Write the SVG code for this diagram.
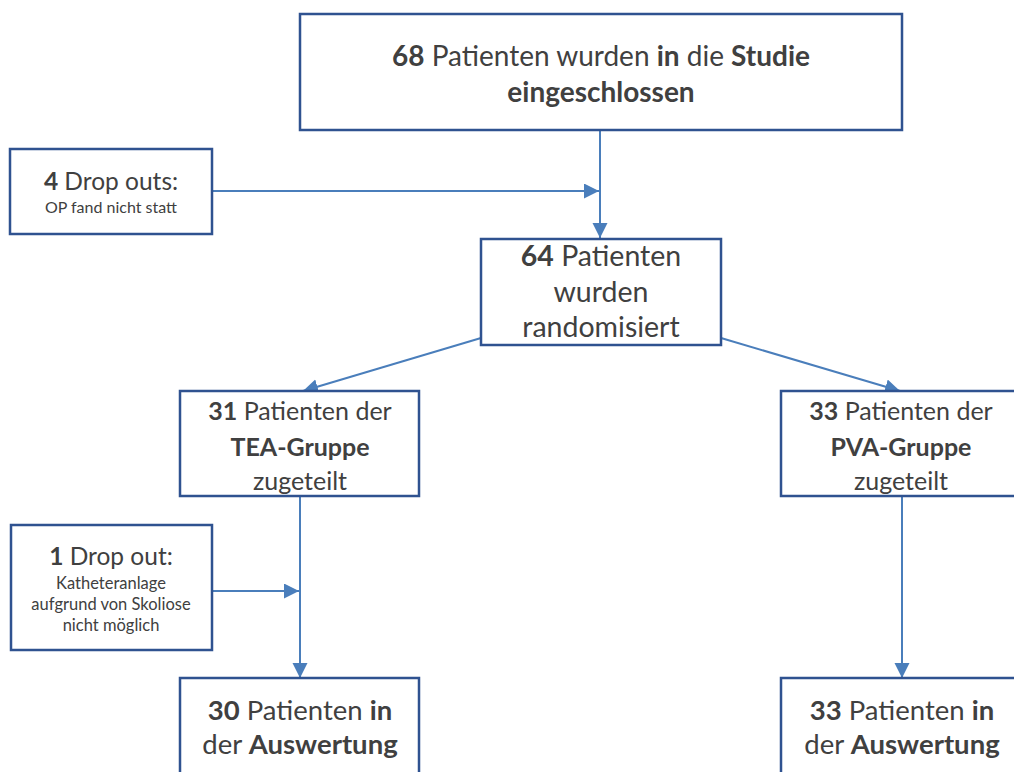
<svg xmlns="http://www.w3.org/2000/svg" width="1014" height="772" viewBox="0 0 1014 772">
<style>
.box{fill:#ffffff;stroke:#2F5290;stroke-width:2.5}
.t{font-family:Lato,"Liberation Sans",sans-serif;fill:#404040;text-anchor:middle}
.b{font-weight:bold}
.c{stroke:#4A7EBB;stroke-width:2;fill:none;marker-end:url(#ah)}
</style>
<defs>
<marker id="ah" markerUnits="userSpaceOnUse" markerWidth="16" markerHeight="16" refX="15" refY="7.5" orient="auto">
<path d="M0,0 L15,7.5 L0,15 z" fill="#4A7EBB"/>
</marker>
</defs>
<g id="connectors">
<line class="c" x1="600" y1="130" x2="600" y2="238"/>
<line class="c" x1="212" y1="191" x2="599" y2="191"/>
<line class="c" x1="481" y1="338" x2="303" y2="391"/>
<line class="c" x1="721" y1="338" x2="900" y2="391"/>
<line class="c" x1="300" y1="496" x2="300" y2="678"/>
<line class="c" x1="212" y1="591" x2="299" y2="591"/>
<line class="c" x1="902" y1="496" x2="902" y2="678"/>
</g>
<g id="n-top">
<rect class="box" x="300" y="14" width="602" height="116"/>
<text class="t" x="601" y="66" font-size="28"><tspan class="b">68</tspan> Patienten wurden <tspan class="b">in</tspan> die <tspan class="b">Studie</tspan></text>
<text class="t b" x="601" y="102" font-size="28">eingeschlossen</text>
</g>
<g id="n-drop4">
<rect class="box" x="10" y="149" width="202" height="85"/>
<text class="t" x="111" y="190" font-size="24.5"><tspan class="b">4</tspan> Drop outs:</text>
<text class="t" x="111" y="213" font-size="16">OP fand nicht statt</text>
</g>
<g id="n-rand">
<rect class="box" x="481" y="239" width="240" height="106"/>
<text class="t" x="601" y="266" font-size="28.5"><tspan class="b">64</tspan> Patienten</text>
<text class="t" x="601" y="302" font-size="28.5">wurden</text>
<text class="t" x="601" y="337" font-size="28.5">randomisiert</text>
</g>
<g id="n-tea">
<rect class="box" x="180" y="391" width="239" height="105"/>
<text class="t" x="300" y="420" font-size="25"><tspan class="b">31</tspan> Patienten der</text>
<text class="t b" x="300" y="456" font-size="25">TEA-Gruppe</text>
<text class="t" x="300" y="490" font-size="25">zugeteilt</text>
</g>
<g id="n-pva">
<rect class="box" x="781" y="391" width="245" height="105"/>
<text class="t" x="901" y="420" font-size="25"><tspan class="b">33</tspan> Patienten der</text>
<text class="t b" x="901" y="456" font-size="25">PVA-Gruppe</text>
<text class="t" x="901" y="490" font-size="25">zugeteilt</text>
</g>
<g id="n-drop1">
<rect class="box" x="11" y="525" width="201" height="125"/>
<text class="t" x="111" y="565" font-size="24.5"><tspan class="b">1</tspan> Drop out:</text>
<text class="t" x="111" y="589" font-size="16.5">Katheteranlage</text>
<text class="t" x="111" y="610" font-size="16.5">aufgrund von Skoliose</text>
<text class="t" x="111" y="631" font-size="16.5">nicht möglich</text>
</g>
<g id="n-tea-out">
<rect class="box" x="180" y="678" width="239" height="110"/>
<text class="t" x="300" y="720" font-size="27.5"><tspan class="b">30</tspan> Patienten <tspan class="b">in</tspan></text>
<text class="t" x="300" y="754" font-size="27.5">der <tspan class="b">Auswertung</tspan></text>
</g>
<g id="n-pva-out">
<rect class="box" x="781" y="678" width="245" height="110"/>
<text class="t" x="902" y="720" font-size="27.5"><tspan class="b">33</tspan> Patienten <tspan class="b">in</tspan></text>
<text class="t" x="902" y="754" font-size="27.5">der <tspan class="b">Auswertung</tspan></text>
</g>
</svg>
